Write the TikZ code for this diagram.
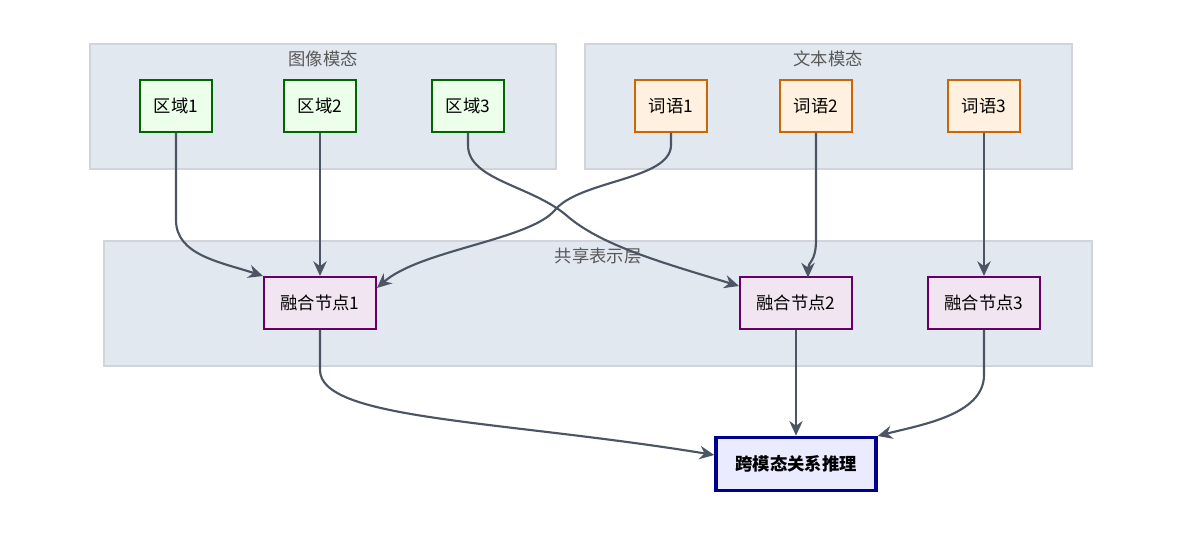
\documentclass[tikz,border=0pt]{standalone}
\usepackage{fontspec}
\setmainfont{Noto Sans CJK SC}
\usetikzlibrary{positioning,arrows.meta}
\definecolor{grpfill}{HTML}{E2E8F0}
\definecolor{grpdraw}{HTML}{D1D5DB}
\definecolor{linkc}{HTML}{4B5563}
\tikzset{
	grp/.style={draw=grpdraw, fill=grpfill, line width=0.8pt},
	grplabel/.style={text=black!65, font=\fontsize{13}{13}\selectfont},
	box/.style={draw=#1!80!black, line width=1.5pt, minimum height=39pt, inner xsep=8pt, font=\fontsize{13}{13}\selectfont},
	region/.style={box=green!50!black, fill=green!8, minimum width=54pt},
	word/.style={box=orange, fill=orange!12, minimum width=54pt},
	fuse/.style={box=violet, fill=violet!10, minimum width=84pt},
	link/.style={draw=linkc, line width=1.6pt, -{Stealth[length=11pt,width=10pt]}}
}
\begin{document}
\begin{tikzpicture}[x=0.75pt,y=-0.75pt]
	\useasboundingbox (0,0) rectangle (1200,548);
	% groups
	\draw[grp] (90,44) rectangle (556,169);
	\node[grplabel] (imgt) at (323,59) {图像模态};
	\draw[grp] (585,44) rectangle (1072,169);
	\node[grplabel] (txtt) at (828,59) {文本模态};
	\draw[grp] (104,241) rectangle (1092,366);
	\node[grplabel] (shrt) at (598,256) {共享表示层};
	% nodes
	\node[region] (r1) at (176,106) {区域1};
	\node[region] (r2) at (320,106) {区域2};
	\node[region] (r3) at (468,106) {区域3};
	\node[word] (w1) at (671,106) {词语1};
	\node[word] (w2) at (816,106) {词语2};
	\node[word] (w3) at (984,106) {词语3};
	\node[fuse] (f1) at (320,303) {融合节点1};
	\node[fuse] (f2) at (796,303) {融合节点2};
	\node[fuse] (f3) at (984,303) {融合节点3};
	\node[box=blue!70!black, fill=blue!8, line width=2.5pt, minimum width=120pt, minimum height=40pt, font=\bfseries\fontsize{13}{13}\selectfont] (res) at (796,464) {跨模态关系推理};
	% links
	\draw[link] (r1.south) -- (176,220) .. controls (176,255) and (220,262) .. (f1.north west);
	\draw[link] (r2) -- (f1);
	\draw[link] (r3.south) -- (468,145) .. controls (468,180) and (530,185) .. (566,215) .. controls (600,245) and (660,262) .. (f2.west |- 0,286);
	\draw[link] (w1.south) -- (671,145) .. controls (671,180) and (580,180) .. (555,210) .. controls (530,240) and (420,250) .. (f1.east |- 0,288);
	\draw[link] (w2.south) -- (816,240) .. controls (816,262) and (808,262) .. (808,277.5);
	\draw[link] (w3) -- (f3);
	\draw[link] (f1.south) -- (320,370) .. controls (320,420) and (500,420) .. (res.west |- 0,455);
	\draw[link] (f2) -- (res);
	\draw[link] (f3.south) -- (984,375) .. controls (984,415) and (920,425) .. (res.east |- 0,436);
\end{tikzpicture}
\end{document}
